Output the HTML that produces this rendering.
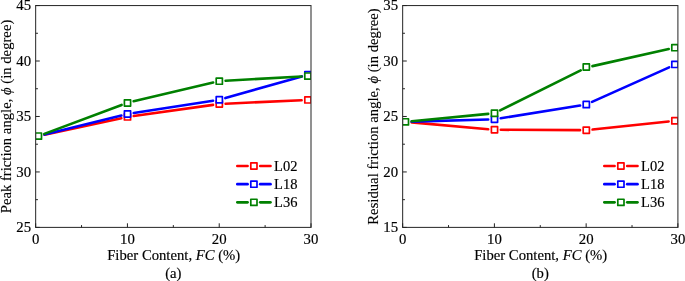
<!DOCTYPE html>
<html><head><meta charset="utf-8"><title>chart</title>
<style>html,body{margin:0;padding:0;background:#fff;overflow:hidden}
svg{display:block;will-change:transform;opacity:0.999} text{font-family:"Liberation Serif",serif;fill:#000;stroke:#000;stroke-width:0.16px}</style></head>
<body><svg width="685" height="281" viewBox="0 0 685 281">
<rect width="685" height="281" fill="#fff"/>
<clipPath id="c1"><rect x="35.65" y="3.55" width="275.35" height="225.85"/></clipPath>
<g clip-path="url(#c1)">
<line x1="44.56" y1="134.77" x2="121.34" y2="118.23" stroke="#ff0000" stroke-width="2.6" stroke-linecap="round"/>
<line x1="133.74" y1="116.02" x2="213.06" y2="104.88" stroke="#ff0000" stroke-width="2.6" stroke-linecap="round"/>
<line x1="225.59" y1="103.71" x2="301.61" y2="100.19" stroke="#ff0000" stroke-width="2.6" stroke-linecap="round"/>
<rect x="124.40" y="113.80" width="6.2" height="6.2" fill="#fff" stroke="#ff0000" stroke-width="1.7" stroke-linejoin="round"/>
<rect x="216.20" y="100.90" width="6.2" height="6.2" fill="#fff" stroke="#ff0000" stroke-width="1.7" stroke-linejoin="round"/>
<rect x="304.80" y="96.80" width="6.2" height="6.2" fill="#fff" stroke="#ff0000" stroke-width="1.7" stroke-linejoin="round"/>
<line x1="44.51" y1="134.58" x2="121.39" y2="115.47" stroke="#0000ff" stroke-width="2.6" stroke-linecap="round"/>
<line x1="133.73" y1="112.99" x2="213.07" y2="100.76" stroke="#0000ff" stroke-width="2.6" stroke-linecap="round"/>
<line x1="225.36" y1="98.08" x2="301.84" y2="76.42" stroke="#0000ff" stroke-width="2.6" stroke-linecap="round"/>
<rect x="124.40" y="110.85" width="6.2" height="6.2" fill="#fff" stroke="#0000ff" stroke-width="1.7" stroke-linejoin="round"/>
<rect x="216.20" y="96.70" width="6.2" height="6.2" fill="#fff" stroke="#0000ff" stroke-width="1.7" stroke-linejoin="round"/>
<rect x="304.80" y="71.60" width="6.2" height="6.2" fill="#fff" stroke="#0000ff" stroke-width="1.7" stroke-linejoin="round"/>
<line x1="44.30" y1="133.89" x2="121.60" y2="104.91" stroke="#008000" stroke-width="2.6" stroke-linecap="round"/>
<line x1="133.63" y1="101.26" x2="213.17" y2="82.54" stroke="#008000" stroke-width="2.6" stroke-linecap="round"/>
<line x1="225.59" y1="80.75" x2="301.61" y2="76.45" stroke="#008000" stroke-width="2.6" stroke-linecap="round"/>
<rect x="35.30" y="133.00" width="6.2" height="6.2" fill="#fff" stroke="#008000" stroke-width="1.7" stroke-linejoin="round"/>
<rect x="124.40" y="99.85" width="6.2" height="6.2" fill="#fff" stroke="#008000" stroke-width="1.7" stroke-linejoin="round"/>
<rect x="216.20" y="78.05" width="6.2" height="6.2" fill="#fff" stroke="#008000" stroke-width="1.7" stroke-linejoin="round"/>
<rect x="304.80" y="73.00" width="6.2" height="6.2" fill="#fff" stroke="#008000" stroke-width="1.7" stroke-linejoin="round"/>
</g>
<rect x="35.65" y="5.55" width="275.35" height="221.85" fill="none" stroke="#2e2e2e" stroke-width="1.05"/>
<line x1="35.65" y1="5.55" x2="39.75" y2="5.55" stroke="#222" stroke-width="1.0"/>
<text x="31.10" y="10.15" font-size="14.8" text-anchor="end">45</text>
<line x1="35.65" y1="33.28" x2="37.949999999999996" y2="33.28" stroke="#222" stroke-width="1.0"/>
<line x1="35.65" y1="61.01" x2="39.75" y2="61.01" stroke="#222" stroke-width="1.0"/>
<text x="31.10" y="65.61" font-size="14.8" text-anchor="end">40</text>
<line x1="35.65" y1="88.74" x2="37.949999999999996" y2="88.74" stroke="#222" stroke-width="1.0"/>
<line x1="35.65" y1="116.47" x2="39.75" y2="116.47" stroke="#222" stroke-width="1.0"/>
<text x="31.10" y="121.07" font-size="14.8" text-anchor="end">35</text>
<line x1="35.65" y1="144.21" x2="37.949999999999996" y2="144.21" stroke="#222" stroke-width="1.0"/>
<line x1="35.65" y1="171.94" x2="39.75" y2="171.94" stroke="#222" stroke-width="1.0"/>
<text x="31.10" y="176.54" font-size="14.8" text-anchor="end">30</text>
<line x1="35.65" y1="199.67" x2="37.949999999999996" y2="199.67" stroke="#222" stroke-width="1.0"/>
<line x1="35.65" y1="227.40" x2="39.75" y2="227.40" stroke="#222" stroke-width="1.0"/>
<text x="31.10" y="232.00" font-size="14.8" text-anchor="end">25</text>
<line x1="35.65" y1="227.4" x2="35.65" y2="223.3" stroke="#222" stroke-width="1.0"/>
<text x="35.65" y="243.60" font-size="14.8" text-anchor="middle">0</text>
<line x1="81.54" y1="227.4" x2="81.54" y2="225.1" stroke="#222" stroke-width="1.0"/>
<line x1="127.43" y1="227.4" x2="127.43" y2="223.3" stroke="#222" stroke-width="1.0"/>
<text x="127.43" y="243.60" font-size="14.8" text-anchor="middle">10</text>
<line x1="173.33" y1="227.4" x2="173.33" y2="225.1" stroke="#222" stroke-width="1.0"/>
<line x1="219.22" y1="227.4" x2="219.22" y2="223.3" stroke="#222" stroke-width="1.0"/>
<text x="219.22" y="243.60" font-size="14.8" text-anchor="middle">20</text>
<line x1="265.11" y1="227.4" x2="265.11" y2="225.1" stroke="#222" stroke-width="1.0"/>
<line x1="311.00" y1="227.4" x2="311.00" y2="223.3" stroke="#222" stroke-width="1.0"/>
<text x="311.00" y="243.60" font-size="14.8" text-anchor="middle">30</text>
<text x="173.72" y="259.7" font-size="14.7" text-anchor="middle">Fiber Content, <tspan font-style="italic">FC</tspan> (%)</text>
<text x="173.32" y="277.7" font-size="14.7" text-anchor="middle">(a)</text>
<text transform="translate(11.15,116.48) rotate(-90)" font-size="14.7" text-anchor="middle" style="stroke-width:0.12px">Peak friction angle, <tspan font-style="italic">&#x3D5;</tspan> (in degree)</text>
<line x1="237.30" y1="165.95" x2="247.60" y2="165.95" stroke="#ff0000" stroke-width="2.6" stroke-linecap="round"/>
<line x1="260.20" y1="165.95" x2="270.50" y2="165.95" stroke="#ff0000" stroke-width="2.6" stroke-linecap="round"/>
<rect x="250.80" y="162.85" width="6.2" height="6.2" fill="#fff" stroke="#ff0000" stroke-width="1.7" stroke-linejoin="round"/>
<text x="274.10" y="170.95" font-size="14.5">L02</text>
<line x1="237.30" y1="184.15" x2="247.60" y2="184.15" stroke="#0000ff" stroke-width="2.6" stroke-linecap="round"/>
<line x1="260.20" y1="184.15" x2="270.50" y2="184.15" stroke="#0000ff" stroke-width="2.6" stroke-linecap="round"/>
<rect x="250.80" y="181.05" width="6.2" height="6.2" fill="#fff" stroke="#0000ff" stroke-width="1.7" stroke-linejoin="round"/>
<text x="274.10" y="189.15" font-size="14.5">L18</text>
<line x1="237.30" y1="202.35" x2="247.60" y2="202.35" stroke="#008000" stroke-width="2.6" stroke-linecap="round"/>
<line x1="260.20" y1="202.35" x2="270.50" y2="202.35" stroke="#008000" stroke-width="2.6" stroke-linecap="round"/>
<rect x="250.80" y="199.25" width="6.2" height="6.2" fill="#fff" stroke="#008000" stroke-width="1.7" stroke-linejoin="round"/>
<text x="274.10" y="207.35" font-size="14.5">L36</text>
<clipPath id="c2"><rect x="402.65" y="3.55" width="275.25" height="225.85"/></clipPath>
<g clip-path="url(#c2)">
<line x1="411.68" y1="122.41" x2="488.22" y2="129.19" stroke="#ff0000" stroke-width="2.6" stroke-linecap="round"/>
<line x1="500.80" y1="129.78" x2="580.00" y2="130.17" stroke="#ff0000" stroke-width="2.6" stroke-linecap="round"/>
<line x1="592.56" y1="129.54" x2="668.64" y2="121.46" stroke="#ff0000" stroke-width="2.6" stroke-linecap="round"/>
<rect x="491.40" y="126.65" width="6.2" height="6.2" fill="#fff" stroke="#ff0000" stroke-width="1.7" stroke-linejoin="round"/>
<rect x="583.20" y="127.10" width="6.2" height="6.2" fill="#fff" stroke="#ff0000" stroke-width="1.7" stroke-linejoin="round"/>
<rect x="671.80" y="117.70" width="6.2" height="6.2" fill="#fff" stroke="#ff0000" stroke-width="1.7" stroke-linejoin="round"/>
<line x1="411.70" y1="121.67" x2="488.20" y2="119.43" stroke="#0000ff" stroke-width="2.6" stroke-linecap="round"/>
<line x1="500.72" y1="118.25" x2="580.08" y2="105.50" stroke="#0000ff" stroke-width="2.6" stroke-linecap="round"/>
<line x1="592.05" y1="101.92" x2="669.15" y2="67.33" stroke="#0000ff" stroke-width="2.6" stroke-linecap="round"/>
<rect x="491.40" y="116.15" width="6.2" height="6.2" fill="#fff" stroke="#0000ff" stroke-width="1.7" stroke-linejoin="round"/>
<rect x="583.20" y="101.45" width="6.2" height="6.2" fill="#fff" stroke="#0000ff" stroke-width="1.7" stroke-linejoin="round"/>
<rect x="671.80" y="61.30" width="6.2" height="6.2" fill="#fff" stroke="#0000ff" stroke-width="1.7" stroke-linejoin="round"/>
<line x1="411.67" y1="121.24" x2="488.23" y2="113.86" stroke="#008000" stroke-width="2.6" stroke-linecap="round"/>
<line x1="500.14" y1="110.44" x2="580.66" y2="70.31" stroke="#008000" stroke-width="2.6" stroke-linecap="round"/>
<line x1="592.45" y1="66.12" x2="668.75" y2="49.03" stroke="#008000" stroke-width="2.6" stroke-linecap="round"/>
<rect x="402.30" y="118.75" width="6.2" height="6.2" fill="#fff" stroke="#008000" stroke-width="1.7" stroke-linejoin="round"/>
<rect x="491.40" y="110.15" width="6.2" height="6.2" fill="#fff" stroke="#008000" stroke-width="1.7" stroke-linejoin="round"/>
<rect x="583.20" y="63.90" width="6.2" height="6.2" fill="#fff" stroke="#008000" stroke-width="1.7" stroke-linejoin="round"/>
<rect x="671.80" y="44.55" width="6.2" height="6.2" fill="#fff" stroke="#008000" stroke-width="1.7" stroke-linejoin="round"/>
</g>
<rect x="402.65" y="5.55" width="275.25" height="221.85" fill="none" stroke="#2e2e2e" stroke-width="1.05"/>
<line x1="402.65" y1="5.55" x2="406.75" y2="5.55" stroke="#222" stroke-width="1.0"/>
<text x="398.10" y="10.15" font-size="14.8" text-anchor="end">35</text>
<line x1="402.65" y1="33.28" x2="404.95" y2="33.28" stroke="#222" stroke-width="1.0"/>
<line x1="402.65" y1="61.01" x2="406.75" y2="61.01" stroke="#222" stroke-width="1.0"/>
<text x="398.10" y="65.61" font-size="14.8" text-anchor="end">30</text>
<line x1="402.65" y1="88.74" x2="404.95" y2="88.74" stroke="#222" stroke-width="1.0"/>
<line x1="402.65" y1="116.47" x2="406.75" y2="116.47" stroke="#222" stroke-width="1.0"/>
<text x="398.10" y="121.07" font-size="14.8" text-anchor="end">25</text>
<line x1="402.65" y1="144.21" x2="404.95" y2="144.21" stroke="#222" stroke-width="1.0"/>
<line x1="402.65" y1="171.94" x2="406.75" y2="171.94" stroke="#222" stroke-width="1.0"/>
<text x="398.10" y="176.54" font-size="14.8" text-anchor="end">20</text>
<line x1="402.65" y1="199.67" x2="404.95" y2="199.67" stroke="#222" stroke-width="1.0"/>
<line x1="402.65" y1="227.40" x2="406.75" y2="227.40" stroke="#222" stroke-width="1.0"/>
<text x="398.10" y="232.00" font-size="14.8" text-anchor="end">15</text>
<line x1="402.65" y1="227.4" x2="402.65" y2="223.3" stroke="#222" stroke-width="1.0"/>
<text x="402.65" y="243.60" font-size="14.8" text-anchor="middle">0</text>
<line x1="448.52" y1="227.4" x2="448.52" y2="225.1" stroke="#222" stroke-width="1.0"/>
<line x1="494.40" y1="227.4" x2="494.40" y2="223.3" stroke="#222" stroke-width="1.0"/>
<text x="494.40" y="243.60" font-size="14.8" text-anchor="middle">10</text>
<line x1="540.27" y1="227.4" x2="540.27" y2="225.1" stroke="#222" stroke-width="1.0"/>
<line x1="586.15" y1="227.4" x2="586.15" y2="223.3" stroke="#222" stroke-width="1.0"/>
<text x="586.15" y="243.60" font-size="14.8" text-anchor="middle">20</text>
<line x1="632.02" y1="227.4" x2="632.02" y2="225.1" stroke="#222" stroke-width="1.0"/>
<line x1="677.90" y1="227.4" x2="677.90" y2="223.3" stroke="#222" stroke-width="1.0"/>
<text x="677.90" y="243.60" font-size="14.8" text-anchor="middle">30</text>
<text x="540.67" y="259.7" font-size="14.7" text-anchor="middle">Fiber Content, <tspan font-style="italic">FC</tspan> (%)</text>
<text x="540.27" y="277.7" font-size="14.7" text-anchor="middle">(b)</text>
<text transform="translate(378.15,116.48) rotate(-90)" font-size="14.7" text-anchor="middle" style="stroke-width:0.12px">Residual friction angle, <tspan font-style="italic">&#x3D5;</tspan> (in degree)</text>
<line x1="604.30" y1="165.95" x2="614.60" y2="165.95" stroke="#ff0000" stroke-width="2.6" stroke-linecap="round"/>
<line x1="627.20" y1="165.95" x2="637.50" y2="165.95" stroke="#ff0000" stroke-width="2.6" stroke-linecap="round"/>
<rect x="617.80" y="162.85" width="6.2" height="6.2" fill="#fff" stroke="#ff0000" stroke-width="1.7" stroke-linejoin="round"/>
<text x="641.10" y="170.95" font-size="14.5">L02</text>
<line x1="604.30" y1="184.15" x2="614.60" y2="184.15" stroke="#0000ff" stroke-width="2.6" stroke-linecap="round"/>
<line x1="627.20" y1="184.15" x2="637.50" y2="184.15" stroke="#0000ff" stroke-width="2.6" stroke-linecap="round"/>
<rect x="617.80" y="181.05" width="6.2" height="6.2" fill="#fff" stroke="#0000ff" stroke-width="1.7" stroke-linejoin="round"/>
<text x="641.10" y="189.15" font-size="14.5">L18</text>
<line x1="604.30" y1="202.35" x2="614.60" y2="202.35" stroke="#008000" stroke-width="2.6" stroke-linecap="round"/>
<line x1="627.20" y1="202.35" x2="637.50" y2="202.35" stroke="#008000" stroke-width="2.6" stroke-linecap="round"/>
<rect x="617.80" y="199.25" width="6.2" height="6.2" fill="#fff" stroke="#008000" stroke-width="1.7" stroke-linejoin="round"/>
<text x="641.10" y="207.35" font-size="14.5">L36</text>
</svg></body></html>
